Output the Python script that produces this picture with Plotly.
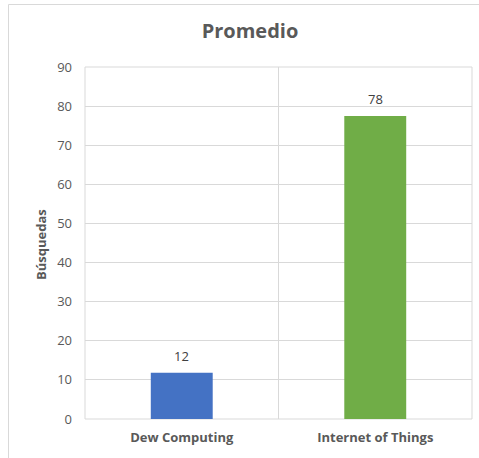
import plotly.graph_objects as go

categories = ["Dew Computing", "Internet of Things"]
values = [11.8, 77.5]
bar_colors = ["#4472C4", "#70AD47"]
y_ticks = [0, 10, 20, 30, 40, 50, 60, 70, 80, 90]

W, H = 479, 458
L, R, T, B = 85, 7, 67, 39
pw = W - L - R
ph = H - T - B

def px_x(p):
    return (p - L) / pw

def px_y(p):
    return 1 - (p - T) / ph

font_family = "Open Sans, Calibri, Arial, sans-serif"
gray = "#595959"
grid = "#D9D9D9"

fig = go.Figure()
fig.add_trace(go.Bar(
    x=categories,
    y=values,
    marker=dict(color=bar_colors, line=dict(width=0)),
    width=0.32,
    hoverinfo="x+y",
))

annotations = [
    dict(
        text="<b>Búsquedas</b>",
        xref="paper", yref="paper",
        x=px_x(41), y=px_y(245),
        xanchor="center", yanchor="middle",
        textangle=-90, showarrow=False,
        font=dict(family=font_family, size=13, color=gray),
    )
]
for c, v in zip(categories, values):
    annotations.append(dict(
        text=f"{v:.0f}", x=c, y=v, xref="x", yref="y",
        xanchor="center", yanchor="bottom", yshift=6, showarrow=False,
        font=dict(family=font_family, size=13, color="#404040"),
    ))

fig.update_layout(
    width=W, height=H,
    margin=dict(l=L, r=R, t=T, b=B, pad=0),
    paper_bgcolor="white",
    plot_bgcolor="white",
    showlegend=False,
    font=dict(family=font_family, color=gray),
    title=dict(
        text="<b>Promedio</b>",
        x=px_x(250), xref="paper", xanchor="center",
        y=1 - 31 / H, yref="container", yanchor="middle",
        font=dict(family=font_family, size=20, color=gray),
    ),
    xaxis=dict(
        type="category",
        range=[-0.5, 1.5],
        tickson="boundaries",
        showgrid=True,
        gridcolor=grid,
        gridwidth=1,
        ticks="",
        showline=False,
        tickfont=dict(family=font_family, size=13, color=gray, weight="bold"),
        ticklabelstandoff=9,
        fixedrange=True,
    ),
    yaxis=dict(
        range=[0, 90],
        tickvals=y_ticks,
        showgrid=True,
        gridcolor=grid,
        gridwidth=1,
        zeroline=False,
        showline=False,
        ticks="",
        tickfont=dict(family=font_family, size=13, color=gray),
        ticklabelstandoff=12,
        fixedrange=True,
    ),
    annotations=annotations,
    shapes=[
        dict(type="rect", xref="paper", yref="paper",
             x0=0, x1=1, y0=0, y1=1, layer="below",
             line=dict(color=grid, width=1)),
        dict(type="line", xref="paper", yref="paper",
             x0=px_x(8.5), x1=px_x(W + 2), y0=px_y(4.5), y1=px_y(4.5),
             line=dict(color=grid, width=1)),
        dict(type="line", xref="paper", yref="paper",
             x0=px_x(8.5), x1=px_x(8.5), y0=px_y(4.5), y1=px_y(H + 2),
             line=dict(color=grid, width=1)),
    ],
)

fig.write_html("out.html")
